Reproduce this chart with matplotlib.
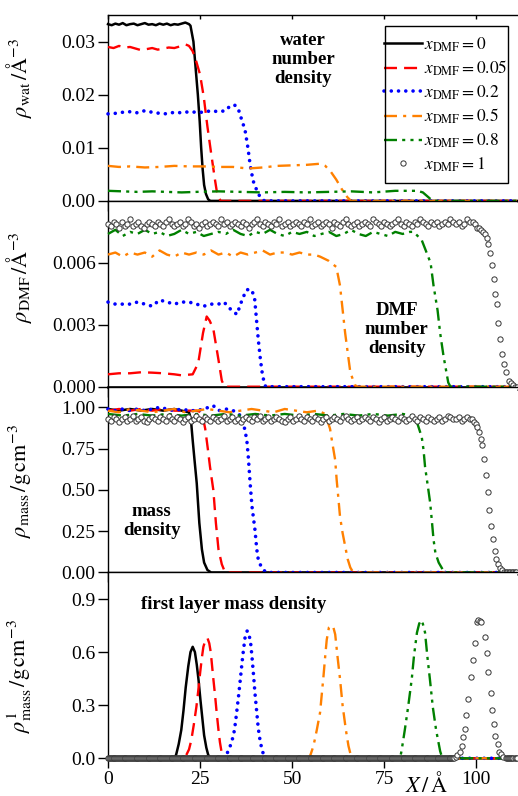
import numpy as np
import matplotlib
matplotlib.use("Agg")
import matplotlib.pyplot as plt
from matplotlib.patches import Rectangle

plt.rcParams["font.family"] = ["Liberation Serif", "DejaVu Serif"]
plt.rcParams["mathtext.fontset"] = "stix"

LABELS = ["0", "0.05", "0.2", "0.5", "0.8", "1"]

# ---- panel 1: water number density (1/A^3) ----
wat_00_x = [0, 1, 2, 3, 4, 5, 6, 7, 8, 9, 10, 11, 12, 13, 14, 15, 16, 17, 18, 19, 20, 21, 22,
            22.4, 23.2, 23.8, 24.4, 24.9, 25.3, 25.7, 26.1, 26.6, 27.2, 27.8, 111]
wat_00_y = [0.0333, 0.0331, 0.0334, 0.0332, 0.0335, 0.0331, 0.0333, 0.0334, 0.0331, 0.0333, 0.0335,
            0.0332, 0.0333, 0.0331, 0.0334, 0.0332, 0.0334, 0.0331, 0.0333, 0.0332, 0.0334, 0.0336,
            0.0333, 0.0330, 0.0300, 0.0250, 0.0200, 0.0150, 0.0100, 0.0060, 0.0030, 0.0013, 0.0003,
            0.0, 0.0]
wat_05_x = [0, 1.5, 3, 4.5, 6, 7.5, 9, 10.5, 12, 13.5, 15, 16.5, 18, 19.5, 21, 22, 23, 24, 25, 26,
            27, 28, 29, 29.5, 30, 30.6, 111]
wat_05_y = [0.0290, 0.0288, 0.0292, 0.0289, 0.0290, 0.0287, 0.0284, 0.0286, 0.0288, 0.0285, 0.0287,
            0.0289, 0.0288, 0.0291, 0.0295, 0.0292, 0.0282, 0.0262, 0.0238, 0.0196, 0.0140, 0.0090,
            0.0042, 0.0020, 0.0007, 0.0, 0.0]
wat_20_x = [0, 2, 4, 6, 8, 10, 12, 14, 16, 18, 20, 22, 24, 26, 28, 30, 32, 33, 34.3, 35.3, 36.3,
            37.2, 38, 38.6, 39.4, 40.4, 41.4, 42.5, 111]
wat_20_y = [0.0164, 0.0165, 0.0167, 0.0168, 0.0166, 0.0170, 0.0167, 0.0165, 0.0164, 0.0167, 0.0166,
            0.0168, 0.0167, 0.0167, 0.0170, 0.0168, 0.0170, 0.0178, 0.0181, 0.0175, 0.0153, 0.0134,
            0.0100, 0.0068, 0.0038, 0.0020, 0.0006, 0.0, 0.0]
wat_50_x = [0, 3, 6, 10, 14, 18, 22, 26, 30, 34, 38, 42, 46, 50, 54, 57.5, 59, 60.5, 62, 63.5, 65,
            66, 111]
wat_50_y = [0.0066, 0.0064, 0.0065, 0.0063, 0.0064, 0.0066, 0.0065, 0.0065, 0.0064, 0.0064, 0.0061,
            0.0063, 0.0066, 0.0067, 0.0068, 0.0070, 0.0066, 0.0055, 0.0040, 0.0022, 0.0007, 0.0, 0.0]
wat_80_x = [0, 4, 8, 12, 16, 20, 24, 30, 36, 42, 48, 54, 60, 66, 72, 78, 84, 85.5, 86.5, 87.5,
            88.5, 111]
wat_80_y = [0.0019, 0.0018, 0.0017, 0.0018, 0.0017, 0.0016, 0.0017, 0.0018, 0.0017, 0.0016, 0.0017,
            0.0016, 0.0017, 0.0018, 0.0016, 0.0019, 0.0019, 0.0016, 0.0010, 0.0004, 0.0, 0.0]

# ---- panel 2: DMF number density (1/A^3) ----
dmf_00_x = [0, 111]
dmf_00_y = [0.0, 0.0]
dmf_05_x = [0, 3, 6, 9, 12, 15, 18, 20, 23, 24.5, 25.8, 26.8, 27.6, 28.6, 30, 30.9, 31.6, 111]
dmf_05_y = [0.00060, 0.00065, 0.00065, 0.00070, 0.00068, 0.00065, 0.00060, 0.00055, 0.00060,
            0.00114, 0.00260, 0.00340, 0.00320, 0.00280, 0.00130, 0.00030, 0.0, 0.0]
dmf_20_x = [0, 2, 4, 6, 8, 10, 12, 14, 16, 18, 20, 22, 24, 26, 28, 30, 31.5, 33, 35, 36.6, 37.7,
            39, 39.8, 40.3, 40.8, 41.4, 42, 42.8, 111]
dmf_20_y = [0.0041, 0.0040, 0.0040, 0.0040, 0.0041, 0.0040, 0.0039, 0.0042, 0.0041, 0.0040, 0.0041,
            0.0041, 0.0040, 0.0039, 0.0040, 0.0040, 0.0041, 0.0038, 0.0035, 0.0043, 0.0047, 0.0047,
            0.0043, 0.0033, 0.0023, 0.0013, 0.0005, 0.0, 0.0]
dmf_50_x = [0, 2, 4, 6, 8, 10, 12, 14, 16, 18, 20, 22, 24, 26, 28, 30, 32, 34, 36, 38, 40, 42, 44,
            46, 48, 50, 52, 54, 56, 57.6, 59.9, 62, 63, 64.4, 65.8, 67, 67.6, 111]
dmf_50_y = [0.0064, 0.0065, 0.0063, 0.0065, 0.0064, 0.0065, 0.0063, 0.0066, 0.0064, 0.0063, 0.0065,
            0.0064, 0.0065, 0.0064, 0.0066, 0.0064, 0.0065, 0.0063, 0.0065, 0.0064, 0.0065, 0.0066,
            0.0064, 0.0065, 0.0065, 0.0064, 0.0065, 0.0064, 0.0064, 0.0063, 0.0061, 0.0058, 0.0049,
            0.0026, 0.0007, 0.0001, 0.0, 0.0]
dmf_80_x = [0, 2, 4, 6, 8, 10, 12, 14, 16, 18, 20, 22, 24, 26, 28, 30, 32, 34, 36, 38, 40, 42, 44,
            46, 48, 50, 52, 54, 56, 58, 60, 62, 64, 66, 68, 70, 72, 74, 76, 78, 80, 82, 83, 85.2,
            87.6, 88.4, 89.5, 90.2, 91.1, 92.4, 93, 111]
dmf_80_y = [0.0074, 0.0076, 0.0073, 0.0075, 0.0074, 0.0076, 0.0074, 0.0075, 0.0073, 0.0074, 0.0076,
            0.0074, 0.0075, 0.0073, 0.0074, 0.0075, 0.0074, 0.0076, 0.0074, 0.0073, 0.0075, 0.0074,
            0.0076, 0.0074, 0.0073, 0.0075, 0.0074, 0.0075, 0.0073, 0.0074, 0.0075, 0.0073, 0.0074,
            0.0076, 0.0074, 0.0073, 0.0075, 0.0074, 0.0073, 0.0075, 0.0074, 0.0075, 0.0075, 0.0071,
            0.0060, 0.0049, 0.0037, 0.0026, 0.0015, 0.0002, 0.0, 0.0]
# pure DMF: plateau sampled every 0.75 A from 0 to 99.75 (units 1e-4), then the edge
dmf_10_flat = [79, 78, 80, 79, 77, 80, 78, 79, 81, 78, 79, 80, 78, 77, 79, 80, 79, 78,
               80, 79, 78, 80, 81, 79, 78, 79, 80, 78, 79, 81, 80, 78, 79, 77, 79, 80,
               78, 79, 80, 79, 78, 81, 79, 80, 78, 79, 80, 79, 78, 80, 79, 77, 79, 80,
               81, 79, 78, 80, 79, 78, 80, 79, 81, 78, 79, 80, 78, 79, 80, 79, 78, 80,
               79, 81, 78, 79, 80, 78, 79, 80, 79, 77, 80, 79, 78, 80, 81, 79, 78, 79,
               80, 78, 79, 80, 79, 78, 81, 80, 79, 78, 80, 79, 78, 79, 80, 81, 79, 78,
               80, 79, 78, 80, 79, 81, 80, 79, 78, 80, 79, 80, 78, 79, 80, 79, 81, 80,
               79, 80, 78, 79, 81, 80, 80, 79]
dmf_10_edge_x = [100.3, 100.8, 101.3, 101.8, 102.3, 102.8, 103.3, 103.8, 104.3, 104.8, 105.2,
                 105.6, 106.0, 106.4, 107.0, 107.6, 108.2, 108.8, 109.4, 110.0, 110.5, 111.0]
dmf_10_edge_y = [0.0077, 0.0077, 0.0076, 0.0075, 0.0074, 0.0072, 0.0069, 0.0065, 0.0059, 0.0052,
                 0.0045, 0.0040, 0.0031, 0.0023, 0.0016, 0.0011, 0.0007, 0.0003, 0.0002, 0.0001,
                 0.0, 0.0]

# ---- panel 3: mass density (g/cm^3) ----
mass_00_x = [0, 3, 6, 9, 12, 15, 18, 20, 22, 22.5, 23, 23.5, 24.1, 24.8, 25.5, 26.1, 27, 28, 111]
mass_00_y = [0.99, 0.98, 0.99, 0.98, 0.99, 0.98, 0.99, 0.98, 0.97, 0.93, 0.80, 0.68, 0.54, 0.30,
             0.14, 0.06, 0.015, 0.0, 0.0]
mass_05_x = [0, 3, 6, 9, 12, 15, 18, 21, 24, 25.5, 26.4, 27.1, 27.7, 28.6, 29.3, 30, 30.9, 31.8, 111]
mass_05_y = [0.98, 0.99, 0.98, 0.99, 0.98, 0.99, 0.98, 0.98, 0.98, 0.97, 0.87, 0.75, 0.64, 0.50,
             0.30, 0.14, 0.05, 0.0, 0.0]
mass_20_x = [0, 2, 4, 6, 8, 10, 12, 14, 16, 18, 20, 22, 24, 26, 28.6, 30, 32, 34, 36, 36.8, 37.2,
             37.7, 38.1, 38.6, 39.1, 39.9, 40.4, 40.8, 41.5, 42.5, 43, 111]
mass_20_y = [0.99, 0.98, 0.99, 0.98, 0.99, 0.98, 0.99, 1.00, 0.99, 0.98, 0.99, 0.98, 0.98, 0.99,
             1.01, 0.98, 0.99, 0.98, 0.95, 0.90, 0.86, 0.80, 0.70, 0.54, 0.40, 0.26, 0.14, 0.08,
             0.04, 0.01, 0.0, 0.0]
mass_50_x = [0, 3, 6, 9, 12, 15, 18, 21, 24, 27, 30, 33, 36, 39, 42, 45, 48, 51, 54, 57, 59, 60.3,
             60.8, 61.7, 62.1, 62.6, 63, 63.7, 64.4, 65.1, 65.8, 66.6, 111]
mass_50_y = [0.98, 0.97, 0.99, 0.98, 0.97, 0.98, 0.99, 0.97, 0.98, 0.99, 0.98, 0.97, 0.98, 0.99,
             0.98, 0.97, 0.99, 0.98, 0.97, 0.98, 0.96, 0.87, 0.80, 0.68, 0.56, 0.44, 0.34, 0.24,
             0.16, 0.08, 0.03, 0.0, 0.0]
mass_80_x = [0, 4, 8, 12, 16, 20, 24, 28, 32, 36, 40, 44, 48, 52, 56, 60, 64, 68, 72, 76, 80, 82.5,
             83.9, 85.2, 85.7, 86.1, 87, 87.5, 88, 88.4, 88.9, 89.8, 91.1, 91.6, 111]
mass_80_y = [0.96, 0.95, 0.96, 0.95, 0.96, 0.95, 0.96, 0.95, 0.96, 0.95, 0.96, 0.95, 0.96, 0.95,
             0.96, 0.95, 0.96, 0.95, 0.96, 0.95, 0.96, 0.95, 0.91, 0.82, 0.74, 0.64, 0.50, 0.42,
             0.30, 0.20, 0.12, 0.06, 0.01, 0.0, 0.0]
# pure DMF: plateau sampled every 0.75 A from 0 to 98.25 (units 0.01 g/cm^3), then the edge
mass_10_flat = [93, 92, 94, 93, 91, 93, 94, 92, 93, 95, 92, 93, 94, 92, 91, 93, 94, 93,
                92, 94, 93, 92, 95, 93, 92, 94, 93, 91, 93, 94, 92, 93, 95, 93, 92, 94,
                93, 92, 94, 93, 92, 93, 95, 92, 93, 94, 92, 93, 91, 93, 94, 93, 92, 94,
                93, 95, 92, 93, 94, 92, 93, 94, 93, 92, 91, 93, 94, 92, 93, 95, 93, 92,
                94, 93, 92, 94, 93, 91, 93, 94, 92, 93, 94, 93, 92, 94, 95, 93, 92, 93,
                94, 92, 93, 94, 93, 92, 94, 93, 91, 93, 94, 92, 93, 94, 93, 92, 94, 93,
                92, 93, 95, 93, 92, 94, 93, 92, 94, 93, 92, 93, 94, 92, 93, 95, 94, 93,
                93, 94, 92, 93, 94, 93]
mass_10_edge_x = [98.8, 99.3, 99.8, 100.3, 100.8, 101.2, 101.6, 102.2, 102.7, 103.2, 103.6,
                  104.1, 104.5, 105.0, 105.4, 106.0, 106.5, 107.0, 107.5, 108.0, 108.4, 108.8,
                  109.2, 109.6, 110.0, 110.4, 110.8]
mass_10_edge_y = [0.93, 0.91, 0.90, 0.88, 0.85, 0.81, 0.77, 0.69, 0.59, 0.49, 0.38, 0.28, 0.20,
                  0.13, 0.08, 0.05, 0.03, 0.015, 0.005, 0.0, 0.0, 0.0, 0.0, 0.0, 0.0, 0.0, 0.0]

# ---- panel 4: first layer mass density (g/cm^3) ----
lay_00_x = [0, 18, 18.5, 19.2, 19.9, 20.5, 21.1, 21.8, 22.4, 23, 23.6, 24.1, 24.6, 25.1, 25.6, 26.1,
            26.7, 27.2, 27.8, 111]
lay_00_y = [0.0, 0.0, 0.02, 0.08, 0.16, 0.27, 0.40, 0.52, 0.60, 0.63, 0.60, 0.53, 0.44, 0.33, 0.23,
            0.13, 0.06, 0.02, 0.0, 0.0]
lay_05_x = [0, 20.8, 21.3, 22, 22.6, 23.3, 24, 24.5, 25, 25.5, 25.9, 26.5, 27, 27.5, 27.9, 28.6,
            29.1, 29.5, 30, 30.4, 30.8, 31.3, 111]
lay_05_y = [0.0, 0.0, 0.02, 0.05, 0.10, 0.19, 0.29, 0.38, 0.48, 0.57, 0.63, 0.67, 0.68, 0.65, 0.60,
            0.45, 0.35, 0.26, 0.16, 0.09, 0.04, 0.0, 0.0]
lay_20_x = [0, 31.8, 32.2, 33.2, 34.1, 34.6, 35, 35.5, 36, 36.6, 37.2, 37.8, 38.3, 38.8, 39.2, 39.6,
            39.9, 40.4, 40.8, 41.3, 41.7, 42.1, 42.7, 111]
lay_20_y = [0.0, 0.0, 0.02, 0.07, 0.13, 0.20, 0.27, 0.36, 0.46, 0.58, 0.68, 0.72, 0.70, 0.64, 0.55,
            0.45, 0.37, 0.26, 0.17, 0.10, 0.06, 0.03, 0.0, 0.0]
lay_50_x = [0, 54.5, 55, 55.8, 56.7, 57.6, 58, 58.5, 59, 59.4, 60, 60.5, 61.2, 61.7, 62.3, 63, 63.7,
            64.6, 65.3, 65.9, 66.4, 111]
lay_50_y = [0.0, 0.0, 0.02, 0.07, 0.16, 0.26, 0.35, 0.46, 0.58, 0.67, 0.74, 0.75, 0.74, 0.70, 0.58,
            0.45, 0.30, 0.16, 0.07, 0.02, 0.0, 0.0]
lay_80_x = [0, 79.3, 79.7, 80.6, 81.5, 82.5, 83.1, 83.9, 84.5, 85, 85.5, 86.1, 86.7, 87.4, 88.2,
            89.1, 90.2, 90.8, 111]
lay_80_y = [0.0, 0.0, 0.04, 0.16, 0.29, 0.45, 0.58, 0.71, 0.76, 0.78, 0.76, 0.71, 0.58, 0.45, 0.29,
            0.16, 0.04, 0.0, 0.0]
# pure DMF: zero baseline sampled every 0.25 A up to 94, then the peak, then zeros
lay_10_peak_x = [94.4, 94.9, 95.5, 96.0, 96.5, 96.9, 97.3, 97.8, 98.7, 99.1, 99.7, 100.3, 100.6,
                 100.9, 101.4, 102.3, 102.8, 103.3, 103.9, 104.3, 104.8, 105.2, 105.8, 106.3,
                 106.7, 107.4, 108.0, 108.3, 108.6, 108.9, 109.2, 109.5, 109.8, 110.1, 110.4,
                 110.7, 111.0]
lay_10_peak_y = [0.009, 0.019, 0.038, 0.072, 0.123, 0.165, 0.246, 0.335, 0.46, 0.558, 0.653, 0.77,
                 0.782, 0.776, 0.77, 0.685, 0.597, 0.489, 0.369, 0.274, 0.195, 0.127, 0.08, 0.038,
                 0.024, 0.009, 0.003, 0.0, 0.0, 0.0, 0.0, 0.0, 0.0, 0.0, 0.0, 0.0, 0.0]

# ---- assemble ----
circ2_x = list(np.linspace(0, 99.75, len(dmf_10_flat))) + dmf_10_edge_x
circ2_y = [v * 1e-4 for v in dmf_10_flat] + dmf_10_edge_y
circ3_x = list(np.linspace(0, 98.25, len(mass_10_flat))) + mass_10_edge_x
circ3_y = [v * 0.01 for v in mass_10_flat] + mass_10_edge_y
circ4_base_x = list(np.arange(0, 94.1, 0.25))
circ4_x = circ4_base_x + lay_10_peak_x
circ4_y = [0.0] * len(circ4_base_x) + lay_10_peak_y

panels = [
    [(wat_00_x, wat_00_y), (wat_05_x, wat_05_y), (wat_20_x, wat_20_y),
     (wat_50_x, wat_50_y), (wat_80_x, wat_80_y), None],
    [(dmf_00_x, dmf_00_y), (dmf_05_x, dmf_05_y), (dmf_20_x, dmf_20_y),
     (dmf_50_x, dmf_50_y), (dmf_80_x, dmf_80_y), (circ2_x, circ2_y)],
    [(mass_00_x, mass_00_y), (mass_05_x, mass_05_y), (mass_20_x, mass_20_y),
     (mass_50_x, mass_50_y), (mass_80_x, mass_80_y), (circ3_x, circ3_y)],
    [(lay_00_x, lay_00_y), (lay_05_x, lay_05_y), (lay_20_x, lay_20_y),
     (lay_50_x, lay_50_y), (lay_80_x, lay_80_y), (circ4_x, circ4_y)],
]

styles = [
    dict(color="black", lw=1.8, ls="-"),
    dict(color="#ff0000", lw=1.7, dashes=(5.5, 3.0)),
    dict(color="#0000ff", lw=2.6, dashes=(0.01, 2.0), dash_capstyle="round"),
    dict(color="#ff8000", lw=1.7, dashes=(5.5, 2.6, 1.3, 2.6)),
    dict(color="#008000", lw=1.7, dashes=(5.5, 2.2, 1.3, 2.2, 1.3, 2.2)),
    dict(ls="none", marker="o", ms=3.8, mfc="white", mec="#333333", mew=0.7),
]

ylims = [0.035, 0.009, 1.125, 1.05]
yticks = [[0, 0.01, 0.02, 0.03], [0, 0.003, 0.006], [0, 0.25, 0.5, 0.75, 1.0], [0, 0.3, 0.6, 0.9]]
yfmts = ["{:.2f}", "{:.3f}", "{:.2f}", "{:.1f}"]
ylabels = [r"$\rho_{\rm wat}\,/\mathrm{\AA}^{-3}$",
           r"$\rho_{\rm DMF}\,/\mathrm{\AA}^{-3}$",
           r"$\rho_{\rm mass}\,/\mathrm{g\,cm}^{-3}$",
           r"$\rho^{1}_{\rm mass}\,/\mathrm{g\,cm}^{-3}$"]
ylabel_pos = [0.66, 0.59, 0.49, 0.44]

fig, axes = plt.subplots(4, 1, sharex=True, figsize=(5.18, 7.96), dpi=100)
fig.subplots_adjust(left=0.2085, right=0.999, top=0.981, bottom=0.0474, hspace=0)

handles = []
for i, ax in enumerate(axes):
    for j, series in enumerate(panels[i]):
        if series is None:
            continue
        h, = ax.plot(series[0], series[1], clip_on=False, zorder=3 + j, **styles[j])
        if i == 1:
            handles.append(h)
    ax.set_xlim(0, 111.2)
    ax.set_ylim(0, ylims[i])
    ax.set_yticks(yticks[i])
    ax.set_yticklabels([yfmts[i].format(v) for v in yticks[i]])
    ax.set_xticks([0, 25, 50, 75, 100])
    ax.tick_params(axis="both", direction="out", length=7, width=1, labelsize=14, pad=2)
    ax.spines["right"].set_visible(False)
    for s in ["left", "bottom", "top"]:
        ax.spines[s].set_linewidth(1.0)
    ax.set_ylabel(ylabels[i], fontsize=16)
    ax.yaxis.set_label_coords(-0.18, ylabel_pos[i])

axes[0].tick_params(axis="x", which="major", top=True)
axes[0].xaxis.set_tick_params(which="major", direction="out")
for t in axes[0].xaxis.get_major_ticks():
    t.tick2line.set_markersize(3)
    t.tick2line.set_marker(3)  # downward tick at the top spine
axes[3].set_xticklabels(["0", "25", "50", "75", "100"])
fig.text(427 / 518, 1 - 784 / 796, r"$X\,/\,\mathrm{\AA}$", fontsize=16, ha="center", va="center")

bold = dict(fontsize=13.5, fontweight="bold", ha="center", va="center", linespacing=1.15)
axes[0].text(53, 0.0266, "water\nnumber\ndensity", **bold)
axes[1].text(78.4, 0.00276, "DMF\nnumber\ndensity", **bold)
axes[2].text(11.9, 0.31, "mass\ndensity", **bold)
axes[3].text(34, 0.87, "first layer mass density", **bold)

# legend box in panel 1
ax0 = axes[0]
ax0.add_patch(Rectangle((0.676, 0.097), 0.302, 0.844, transform=ax0.transAxes,
                        fill=False, lw=1.0, ec="black", zorder=10))
ax0.legend(handles, [r"$x_{\rm DMF} = %s$" % s for s in LABELS], loc="center",
           bbox_to_anchor=(0.825, 0.519), frameon=False, fontsize=12.5, handlelength=2.2,
           handletextpad=0.15, labelspacing=0.3, borderpad=0.2)

fig.savefig("out.png", dpi=100)
